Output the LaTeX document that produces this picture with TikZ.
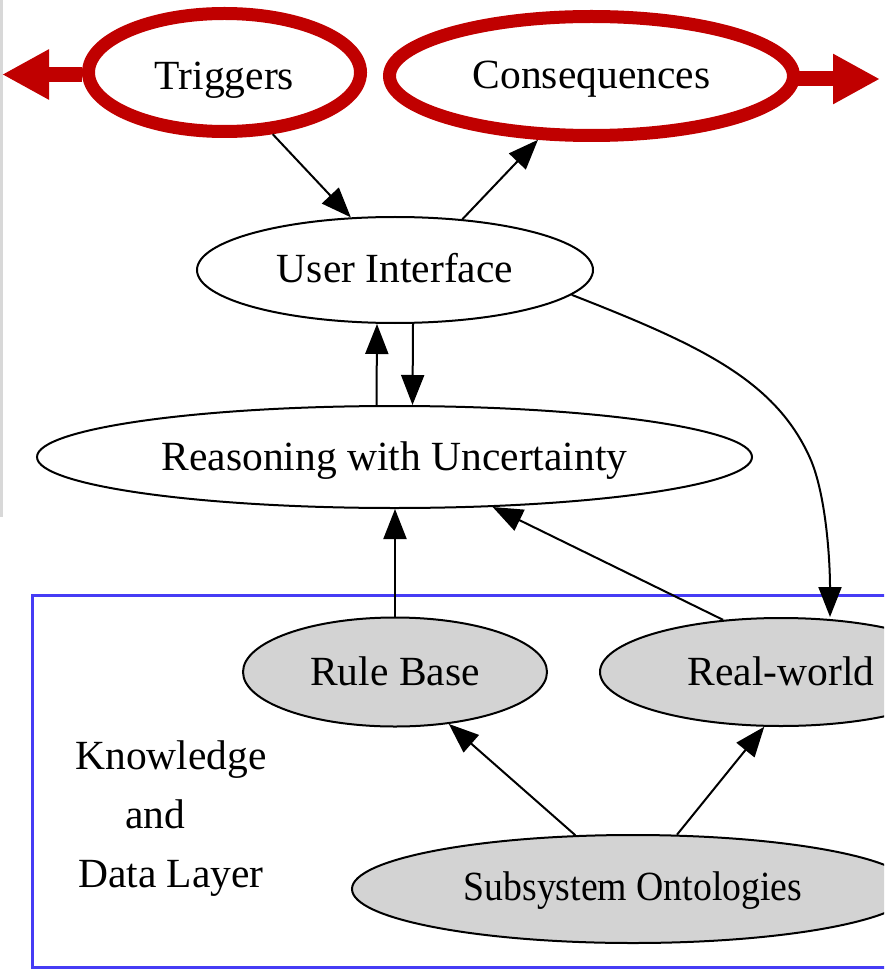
\documentclass[tikz,border=0pt]{standalone}
\usepackage{fontspec}
\setmainfont{Liberation Serif}
\usetikzlibrary{shapes.geometric,arrows.meta,calc}
\definecolor{hlred}{RGB}{192,0,0}
\definecolor{clusterblue}{RGB}{70,60,245}
\definecolor{nodegray}{RGB}{211,211,211}
\definecolor{edgegray}{RGB}{216,216,216}

\begin{document}
\begin{tikzpicture}[x=1pt,y=-1pt,
  every node/.style={font=\fontsize{41.5}{59}\selectfont},
  oval/.style={ellipse, draw=black, line width=2pt, inner sep=0pt,
    text height=32pt, text depth=6pt},
  grayoval/.style={oval, fill=nodegray},
  hloval/.style={ellipse, draw=hlred, line width=13pt, inner sep=0pt,
    text height=32pt, text depth=6pt},
  conn/.style={draw=black, line width=2pt, -{Triangle[length=30pt,width=23pt]}},
  redarrow/.style={draw=hlred, line width=15pt, -{Triangle[length=47pt,width=47pt]}},
  frame/.style={draw=clusterblue, line width=3pt},
]
\useasboundingbox (0,0) rectangle (884,973);
\clip (0,0) rectangle (884,973);

% page edge
\draw[edgegray, line width=2.5pt] (1.5,0) -- (1.5,517);

% knowledge and data layer cluster
\draw[frame] (32,595) rectangle (905,967);

% highlighted outer nodes
\node[hloval, minimum width=272pt, minimum height=118pt,
      text height=38pt, text depth=3pt] (trig) at (224.5,72.5) {Triggers};
\node[hloval, minimum width=404pt, minimum height=119pt] (cons) at (591.5,76) {Consequences};

% core nodes
\node[oval, minimum width=396pt, minimum height=106pt] (ui) at (395,270) {User Interface};
\node[oval, minimum width=715pt, minimum height=102pt] (rsn) at (394.5,457) {Reasoning with Uncertainty};

% layer nodes
\node[grayoval, minimum width=304pt, minimum height=109pt] (rb) at (395,672) {Rule Base};
\node[grayoval, minimum width=362pt, minimum height=108pt] (rw) at (781,672) {Real-world};
\node[grayoval, minimum width=562pt, minimum height=108pt,
      text height=28pt, text depth=6pt] (sub) at (633,889) {\scalebox{0.91}[1]{Subsystem Ontologies}};
\node[align=center] (kdl) at (171,819) {Knowledge\\and\kern32pt\\Data Layer};

% red outward arrows
\coordinate (ltip) at (2,74.5);
\coordinate (rtip) at (880,79);
\draw[redarrow] (trig.west |- ltip) -- (ltip);
\draw[redarrow] ($(cons.east |- rtip)+(-4,0)$) -- (rtip);

% edges
\draw[conn] (trig.-52) -- (ui.130);
\draw[conn] (ui.37) -- (cons.230);
\draw[conn] ([xshift=18pt]ui.south) -- ([xshift=18pt]rsn.north);
\draw[conn] ([xshift=-18pt]rsn.north) -- ([xshift=-18pt]ui.south);
\draw[conn] (ui.-8) .. controls (700,345) and (775,380) .. (810,458)
            .. controls (826,494) and (830,560) .. ([xshift=49pt]rw.north);
\draw[conn] (rb.north) -- (rb.north |- rsn.south);
\draw[conn] (rw.138) -- (rsn.-27);
\draw[conn] (sub.137) -- (rb.-44);
\draw[conn] (sub.51) -- (rw.253);
\end{tikzpicture}
\end{document}
